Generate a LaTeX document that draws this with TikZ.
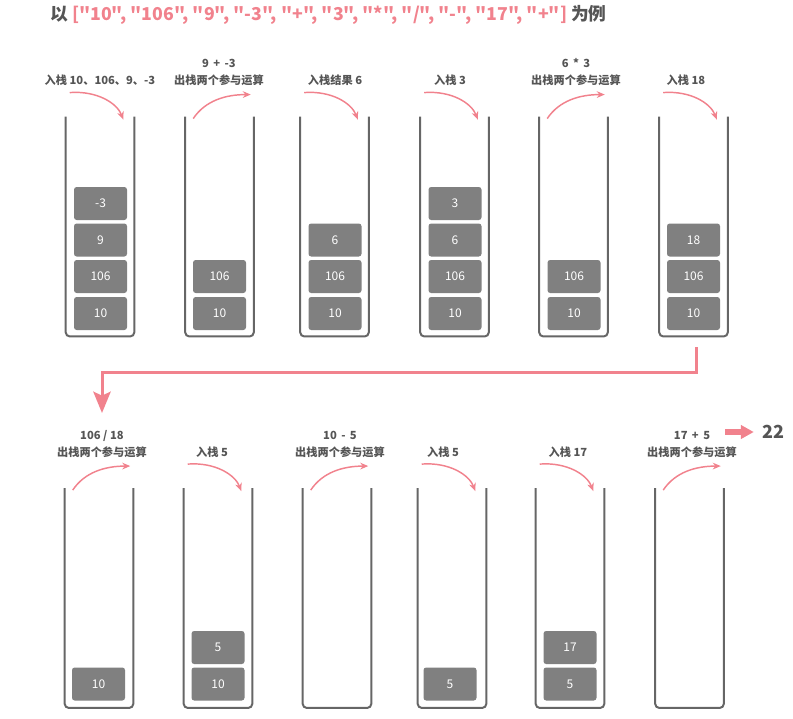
\documentclass[tikz,border=0pt]{standalone}
\usepackage{fontspec}
\setmainfont{Noto Sans CJK SC}[Ligatures=TeXOff]
\usetikzlibrary{arrows.meta, positioning, calc}
\definecolor{rosepink}{RGB}{241,130,141}
\definecolor{wallgray}{RGB}{102,102,102}
\definecolor{blockgray}{RGB}{128,128,128}
\definecolor{textgray}{RGB}{85,85,85}
\newcommand{\stackwall}[1]
{
	\draw[wall] (#1.north west) -- (#1.south west) -- (#1.south east) -- (#1.north east)
}
\newcommand{\pushcurve}[1]
{
	\draw[curve] ($(#1.north west)+(4,-24)$) .. controls +(28,-2) and +(-6,-16) .. ($(#1.north east)+(-11,3)$)
}
\newcommand{\popcurve}[1]
{
	\draw[curve] ($(#1.north west)+(8,2)$) .. controls +(12,-18) and +(-25,0) .. ($(#1.north east)+(-3,-22)$)
}

\begin{document}
\begin{tikzpicture}[x=0.75pt, y=-0.75pt,
	slot/.style={minimum width=51pt, minimum height=164.5pt, inner sep=0pt},
	wall/.style={draw=wallgray, line width=1.5pt, rounded corners=3pt},
	blk/.style={fill=blockgray, rounded corners=2pt, minimum width=39.75pt,
		minimum height=24.75pt, inner sep=0pt, text=white,
		font=\fontsize{9}{10}\selectfont},
	lbl/.style={anchor=south, inner sep=0pt, align=center, text=textgray,
		font=\bfseries\fontsize{8.4}{12.75}\selectfont},
	curve/.style={draw=rosepink, line width=1.1pt,
		-{Stealth[length=6pt, width=5pt]}},
	link/.style={draw=rosepink, line width=2.25pt,
		-{Stealth[length=16pt, width=13pt, inset=3pt]}}]

	\useasboundingbox (0,0) rectangle (793,718);

	% title
	\node[anchor=west, inner sep=0pt, font=\bfseries\fontsize{13.3}{15}\selectfont]
		at (50,15) (title){\textcolor{textgray}{以} \textcolor{rosepink}{["10", "106", "9", "-3", "+", "3", "*", "/", "-", "17", "+"]} \textcolor{textgray}{为例}};

	% first row
	\node[slot] at (100, 226.5) (t1){};
	\node[slot] at (219.5, 226.5) (t2){};
	\node[slot] at (334.5, 226.5) (t3){};
	\node[slot] at (454.5, 226.5) (t4){};
	\node[slot] at (573.5, 226.5) (t5){};
	\node[slot] at (693.5, 226.5) (t6){};
	\stackwall{t1};
	\stackwall{t2};
	\stackwall{t3};
	\stackwall{t4};
	\stackwall{t5};
	\stackwall{t6};

	\node[lbl] at (100, 86) (tl1){入栈 10、106、9、-3};
	\node[lbl] at (219, 86) (tl2){9 \,+\, -3\\出栈两个参与运算};
	\node[lbl] at (335, 86) (tl3){入栈结果 6};
	\node[lbl] at (450, 86) (tl4){入栈 3};
	\node[lbl] at (576, 86) (tl5){6 \,*\, 3\\出栈两个参与运算};
	\node[lbl] at (686, 86) (tl6){入栈 18};
	\pushcurve{t1};
	\popcurve{t2};
	\pushcurve{t3};
	\pushcurve{t4};
	\popcurve{t5};
	\pushcurve{t6};

	\node[blk] at (100.5, 313.5) (t1a){10};
	\node[blk] at (100.5, 276.5) (t1b){106};
	\node[blk] at (100.5, 240) (t1c){9};
	\node[blk] at (100.5, 203.5) (t1d){-3};
	\node[blk] at (219.5, 313.5) (t2a){10};
	\node[blk] at (219.5, 276.5) (t2b){106};
	\node[blk] at (335, 313.5) (t3a){10};
	\node[blk] at (335, 276.5) (t3b){106};
	\node[blk] at (335, 240) (t3c){6};
	\node[blk] at (455, 313.5) (t4a){10};
	\node[blk] at (455, 276.5) (t4b){106};
	\node[blk] at (455, 240) (t4c){6};
	\node[blk] at (455, 203.5) (t4d){3};
	\node[blk] at (574, 313.5) (t5a){10};
	\node[blk] at (574, 276.5) (t5b){106};
	\node[blk] at (693.5, 313.5) (t6a){10};
	\node[blk] at (693.5, 276.5) (t6b){106};
	\node[blk] at (693.5, 240) (t6c){18};

	% link to second row
	\coordinate (turn) at ($(t6.south)+(2.5,11)$);
	\coordinate (drop) at (102, 413);
	\draw[link] (turn) -- ++(0,25) -| (drop);

	% second row
	\node[slot] at (99, 598) (b1){};
	\node[slot] at (218, 598) (b2){};
	\node[slot] at (337, 598) (b3){};
	\node[slot] at (452, 598) (b4){};
	\node[slot] at (570, 598) (b5){};
	\node[slot] at (689.5, 598) (b6){};
	\stackwall{b1};
	\stackwall{b2};
	\stackwall{b3};
	\stackwall{b4};
	\stackwall{b5};
	\stackwall{b6};

	\node[lbl] at (102, 458) (bl1){106 / 18\\出栈两个参与运算};
	\node[lbl] at (212, 458) (bl2){入栈 5};
	\node[lbl] at (340, 458) (bl3){10 \,-\, 5\\出栈两个参与运算};
	\node[lbl] at (443, 458) (bl4){入栈 5};
	\node[lbl] at (568, 458) (bl5){入栈 17};
	\node[lbl] at (692, 458) (bl6){17 \,+\, 5\\出栈两个参与运算};
	\popcurve{b1};
	\pushcurve{b2};
	\popcurve{b3};
	\pushcurve{b4};
	\pushcurve{b5};
	\popcurve{b6};

	\node[blk] at (98.5, 684) (b1a){10};
	\node[blk] at (218, 684) (b2a){10};
	\node[blk] at (218, 647.5) (b2b){5};
	\node[blk] at (450, 684) (b4a){5};
	\node[blk] at (570, 684) (b5a){5};
	\node[blk] at (570, 647.5) (b5b){17};

	% result
	\node[inner sep=0pt, text=textgray, font=\bfseries\fontsize{13.5}{16}\selectfont]
		at (773, 432) (res){22};
	\coordinate (go) at (725, 432);
	\draw[draw=rosepink, line width=5pt, shorten >=6pt,
		-{Triangle[length=9.75pt, width=10pt]}] (go) -- (res);
\end{tikzpicture}
\end{document}
